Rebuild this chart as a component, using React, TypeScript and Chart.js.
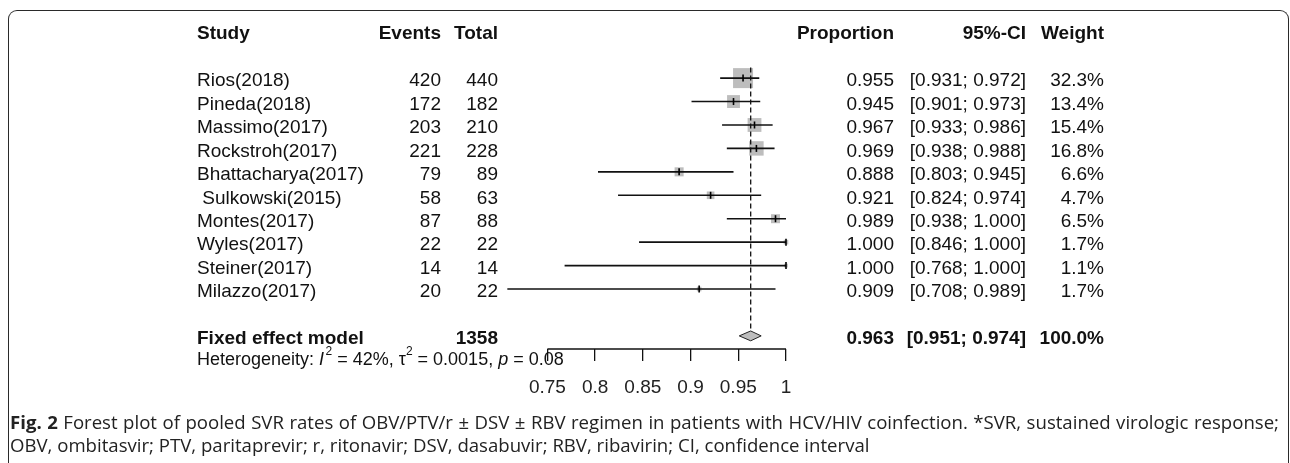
import React, { useEffect, useRef } from "react";
import { Chart, registerables } from "chart.js";

Chart.register(...registerables);

// ---------------- data ----------------
const studies = [
  "Rios(2018)",
  "Pineda(2018)",
  "Massimo(2017)",
  "Rockstroh(2017)",
  "Bhattacharya(2017)",
  " Sulkowski(2015)",
  "Montes(2017)",
  "Wyles(2017)",
  "Steiner(2017)",
  "Milazzo(2017)",
];
const events = [420, 172, 203, 221, 79, 58, 87, 22, 14, 20];
const totals = [440, 182, 210, 228, 89, 63, 88, 22, 14, 22];
const proportions = [0.955, 0.945, 0.967, 0.969, 0.888, 0.921, 0.989, 1.0, 1.0, 0.909];
const ciLower = [0.931, 0.901, 0.933, 0.938, 0.803, 0.824, 0.938, 0.846, 0.768, 0.708];
const ciUpper = [0.972, 0.973, 0.986, 0.988, 0.945, 0.974, 1.0, 1.0, 1.0, 0.989];
const weights = [32.3, 13.4, 15.4, 16.8, 6.6, 4.7, 6.5, 1.7, 1.1, 1.7];

const pooledLabel = "Fixed effect model";
const pooledTotal = 1358;
const pooledEstimate = 0.963;
const pooledLower = 0.951;
const pooledUpper = 0.974;
const pooledWeight = 100.0;

const xTicks = [0.75, 0.8, 0.85, 0.9, 0.95, 1];
const xTickLabels = ["0.75", "0.8", "0.85", "0.9", "0.95", "1"];

const headers = { study: "Study", events: "Events", total: "Total", prop: "Proportion", ci: "95%-CI", weight: "Weight" };

// ---------------- layout / style ----------------
const W = 1290;
const H = 463;
const FONT = '"Liberation Sans", Arial, Helvetica, sans-serif';
const ROW_HEADER = -2;
const ROW_POOLED = 11;
const ROW_HET = 11.9;
const DIAMOND_HALF = 0.21;

const COL = { study: 197, eventsR: 441, totalR: 498, propR: 894, ciR: 1026, weightR: 1104 };

const fmt3 = (v: number) => v.toFixed(3);
const ciText = (lo: number, hi: number) => `[${fmt3(lo)}; ${fmt3(hi)}]`;

const tablePlugin = {
  id: "forestTable",
  afterDraw(chart: any) {
    const { ctx } = chart;
    const ys = chart.scales.y;
    const xs = chart.scales.x;
    const rowY = (r: number) => ys.getPixelForValue(r) + 3;
    ctx.save();

    // axis line only between first and last tick
    ctx.strokeStyle = "#111";
    ctx.lineWidth = 1.3;
    ctx.beginPath();
    const by = chart.chartArea.bottom;
    ctx.moveTo(xs.getPixelForValue(xTicks[0]), by);
    ctx.lineTo(xs.getPixelForValue(xTicks[xTicks.length - 1]), by);
    ctx.stroke();

    ctx.fillStyle = "#111";
    ctx.textBaseline = "middle";
    const bold = `bold 19px ${FONT}`;
    const reg = `19px ${FONT}`;

    const put = (t: string, x: number, y: number, align: CanvasTextAlign, font: string) => {
      ctx.font = font;
      ctx.textAlign = align;
      ctx.fillText(t, x, y);
    };

    // headers
    const hy = rowY(ROW_HEADER);
    put(headers.study, COL.study, hy, "left", bold);
    put(headers.events, COL.eventsR, hy, "right", bold);
    put(headers.total, COL.totalR, hy, "right", bold);
    put(headers.prop, COL.propR, hy, "right", bold);
    put(headers.ci, COL.ciR, hy, "right", bold);
    put(headers.weight, COL.weightR, hy, "right", bold);

    studies.forEach((s, i) => {
      const y = rowY(i);
      put(s, COL.study, y, "left", reg);
      put(String(events[i]), COL.eventsR, y, "right", reg);
      put(String(totals[i]), COL.totalR, y, "right", reg);
      put(fmt3(proportions[i]), COL.propR, y, "right", reg);
      put(ciText(ciLower[i], ciUpper[i]), COL.ciR, y, "right", reg);
      put(`${weights[i].toFixed(1)}%`, COL.weightR, y, "right", reg);
    });

    const py = rowY(ROW_POOLED);
    put(pooledLabel, COL.study, py, "left", bold);
    put(String(pooledTotal), COL.totalR, py, "right", bold);
    put(fmt3(pooledEstimate), COL.propR, py, "right", bold);
    put(ciText(pooledLower, pooledUpper), COL.ciR, py, "right", bold);
    put(`${pooledWeight.toFixed(1)}%`, COL.weightR, py, "right", bold);

    // heterogeneity line with italics and superscripts
    const hetY = rowY(ROW_HET);
    const base = `18px ${FONT}`;
    const ital = `italic 18px ${FONT}`;
    const sup = `12px ${FONT}`;
    const parts: [string, string, number][] = [
      ["Heterogeneity: ", base, 0],
      ["I", ital, 0],
      ["2", sup, -8],
      [" = 42%, \u03C4", base, 0],
      ["2", sup, -8],
      [" = 0.0015, ", base, 0],
      ["p", ital, 0],
      [" = 0.08", base, 0],
    ];
    let x = COL.study;
    ctx.textAlign = "left";
    for (const [t, f, dy] of parts) {
      ctx.font = f;
      ctx.fillText(t, x, hetY + dy);
      x += ctx.measureText(t).width + (t === "I" ? 1.5 : 0);
    }
    ctx.restore();
  },
};

function ForestChart() {
  const ref = useRef<HTMLCanvasElement | null>(null);
  useEffect(() => {
    if (!ref.current) return;
    const boxSide = weights.map((w) => 3.52 * Math.sqrt(w));
    const ciSets = studies.map((s, i) => ({
      type: "scatter" as const,
      label: `CI ${s}`,
      data: [
        { x: ciLower[i], y: i },
        { x: ciUpper[i], y: i },
      ],
      showLine: true,
      borderColor: "#111",
      borderWidth: 1.6,
      pointRadius: 0,
      order: 3,
      clip: false as any,
    }));
    const chart = new Chart(ref.current, {
      type: "scatter",
      data: {
        datasets: [
          {
            label: "Weight boxes",
            data: proportions.map((p, i) => ({ x: p, y: i })),
            pointStyle: "rect",
            pointRadius: boxSide.map((s) => s / Math.SQRT2),
            backgroundColor: "#bdbdbd",
            borderColor: "#bdbdbd",
            borderWidth: 0,
            order: 5,
            clip: false as any,
          },
          {
            label: "Pooled line",
            data: [
              { x: pooledEstimate, y: -0.45 },
              { x: pooledEstimate, y: ROW_POOLED },
            ],
            showLine: true,
            borderColor: "#111",
            borderWidth: 1.3,
            borderDash: [5, 3],
            pointRadius: 0,
            order: 4,
            clip: false as any,
          },
          ...ciSets,
          {
            label: "Estimates",
            data: proportions.map((p, i) => ({ x: p, y: i })),
            pointStyle: "line",
            rotation: 90,
            pointRadius: 3.5,
            borderColor: "#000",
            borderWidth: 1.6,
            order: 2,
            clip: false as any,
          },
          {
            label: "Diamond",
            data: [
              { x: pooledLower, y: ROW_POOLED },
              { x: pooledEstimate, y: ROW_POOLED - DIAMOND_HALF },
              { x: pooledUpper, y: ROW_POOLED },
              { x: pooledEstimate, y: ROW_POOLED + DIAMOND_HALF },
              { x: pooledLower, y: ROW_POOLED },
            ],
            showLine: true,
            fill: "shape" as any,
            backgroundColor: "#bdbdbd",
            borderColor: "#222",
            borderWidth: 1,
            tension: 0,
            pointRadius: 0,
            order: 1,
            clip: false as any,
          },
        ] as any,
      },
      options: {
        animation: false,
        responsive: false,
        events: [],
        layout: { padding: { left: 499.7, right: 504, top: 20, bottom: 49.2 } },
        plugins: { legend: { display: false }, tooltip: { enabled: false } },
        scales: {
          x: {
            type: "linear",
            min: 0.7,
            max: 1.0,
            position: "bottom",
            border: { display: false },
            grid: {
              drawOnChartArea: false,
              drawTicks: true,
              tickLength: 12,
              color: "#111",
              tickColor: "#111",
              lineWidth: 1.3,
              tickWidth: 1.3,
            },
            afterBuildTicks: (scale: any) => {
              scale.ticks = xTicks.map((v) => ({ value: v }));
            },
            ticks: {
              padding: 15,
              color: "#222",
              font: { family: FONT, size: 19 },
              callback: (v: any) => {
                const idx = xTicks.findIndex((t) => Math.abs(t - Number(v)) < 1e-9);
                return idx >= 0 ? xTickLabels[idx] : "";
              },
            },
          },
          y: {
            type: "linear",
            display: false,
            reverse: true,
            min: -2.48,
            max: 11.56,
          },
        },
      },
      plugins: [tablePlugin],
    });
    return () => chart.destroy();
  }, []);
  return <canvas ref={ref} width={W} height={H} style={{ position: "absolute", left: 0, top: 0, width: W, height: H }} />;
}

export default function App() {
  const capStyle: React.CSSProperties = {
    position: "absolute",
    left: 10,
    whiteSpace: "nowrap",
    fontFamily: '"Open Sans", "Noto Sans", sans-serif',
    fontSize: 18.6,
    lineHeight: "23px",
    color: "#222",
  };
  return (
    <div style={{ position: "absolute", left: 0, top: 0, width: W, height: H, overflow: "hidden", background: "#fff" }}>
      <div
        style={{
          position: "absolute",
          left: 8,
          top: 10,
          width: 1281,
          height: 480,
          border: "1.6px solid #2a2a2a",
          borderBottom: "none",
          borderRadius: "9px 9px 0 0",
          boxSizing: "border-box",
        }}
      />
      <ForestChart />
      <div style={{ ...capStyle, top: 409.5, width: 1269, textAlign: "justify", textAlignLast: "justify" as any }}>
        <b>Fig. 2</b> Forest plot of pooled SVR rates of OBV/PTV/r ± DSV ± RBV regimen in patients with HCV/HIV coinfection. *SVR, sustained virologic response;
      </div>
      <div style={{ ...capStyle, top: 432.5 }}>
        OBV, ombitasvir; PTV, paritaprevir; r, ritonavir; DSV, dasabuvir; RBV, ribavirin; CI, confidence interval
      </div>
    </div>
  );
}
